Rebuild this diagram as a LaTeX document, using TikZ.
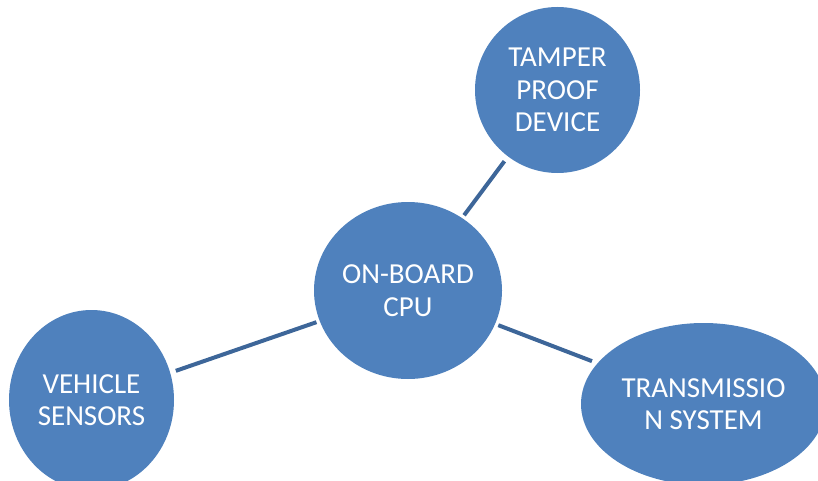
\documentclass[tikz,border=0pt]{standalone}
\usepackage{fontspec}
\setmainfont{Carlito}
\usetikzlibrary{shapes.geometric}
\definecolor{bubblefill}{HTML}{4F81BD}
\definecolor{linkline}{HTML}{3D6699}
\begin{document}
\begin{tikzpicture}[x=1pt,y=-1pt,
  bubble/.style={ellipse, fill=bubblefill, draw=none, inner sep=0pt, outer sep=0pt,
    text=white, align=center, font=\fontsize{29}{32.5}\selectfont},
  link/.style={draw=linkline, line width=4pt, shorten <=3.5pt, shorten >=6pt}]
  \useasboundingbox (0,0) rectangle (818,481);
  % hub and satellites
  \node[bubble, minimum width=188pt, minimum height=177pt] (cpu) at (408,290.5) {ON-BOARD\\CPU};
  \node[bubble, minimum width=165pt, minimum height=166pt] (tamper) at (557.5,90) {TAMPER\\PROOF\\DEVICE};
  \node[bubble, minimum width=165pt, minimum height=180pt] (sensors) at (91.5,400) {VEHICLE\\SENSORS};
  \node[bubble, minimum width=245pt, minimum height=162pt] (trans) at (703.5,404) {TRANSMISSIO\\N SYSTEM};
  % connectors
  \draw[link] (cpu) -- (tamper);
  \draw[link] (cpu) -- (sensors);
  \draw[link] (cpu) -- (trans);
\end{tikzpicture}
\end{document}
